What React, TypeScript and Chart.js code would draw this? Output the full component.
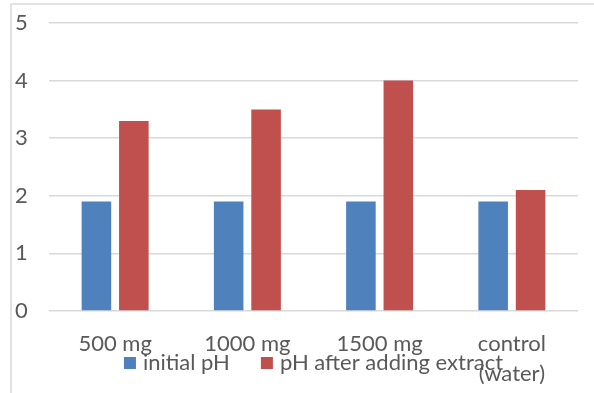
import React, { useEffect, useRef } from "react";
import { Chart, registerables } from "chart.js";

Chart.register(...registerables);

const categories: (string | string[])[] = ["500 mg", "1000 mg", "1500 mg", ["control", "(water)"]];
const seriesNames = ["initial pH", "pH after adding extract"];
const initialPH = [1.9, 1.9, 1.9, 1.9];
const afterPH = [3.3, 3.5, 4.0, 2.1];
const colors = ["#4f81bd", "#c0504d"];
const yMin = 0;
const yMax = 5;
const yStep = 1;

const FONT = "Lato";
const TEXT = "#595959";
const GRID = "#d9d9d9";

const frame = {
  id: "frame",
  beforeDraw(chart: any) {
    const ctx = chart.ctx;
    ctx.save();
    ctx.strokeStyle = GRID;
    ctx.lineWidth = 1.5;
    ctx.beginPath();
    ctx.moveTo(11, chart.height + 2);
    ctx.lineTo(11, 4);
    ctx.lineTo(chart.width + 2, 4);
    ctx.stroke();
    ctx.restore();
  },
};

const customLegend = {
  id: "customLegend",
  afterDraw(chart: any) {
    const ctx = chart.ctx;
    const area = chart.chartArea;
    ctx.save();
    ctx.font = `22px ${FONT}`;
    ctx.textBaseline = "middle";
    ctx.textAlign = "left";
    const box = 12;
    const gapBoxText = 7;
    const gapItems = 31;
    const items = chart.data.datasets.map((d: any) => ({
      label: d.label,
      color: d.backgroundColor,
      w: box + gapBoxText + ctx.measureText(d.label).width,
    }));
    const total = items.reduce((s: number, it: any) => s + it.w, 0) + gapItems * (items.length - 1);
    let x = (area.left + area.right) / 2 - total / 2;
    const yc = 363;
    items.forEach((it: any) => {
      ctx.fillStyle = it.color;
      ctx.fillRect(x, yc - box / 2, box, box);
      ctx.fillStyle = TEXT;
      ctx.fillText(it.label, x + box + gapBoxText, yc);
      x += it.w + gapItems;
    });
    ctx.restore();
  },
};

export default function App() {
  const ref = useRef<HTMLCanvasElement>(null);
  useEffect(() => {
    if (!ref.current) return;
    const chart = new Chart(ref.current, {
      type: "bar",
      data: {
        labels: categories,
        datasets: [
          { label: seriesNames[0], data: initialPH, backgroundColor: colors[0] },
          { label: seriesNames[1], data: afterPH, backgroundColor: colors[1] },
        ],
      },
      options: {
        responsive: false,
        animation: false,
        datasets: { bar: { categoryPercentage: 0.566, barPercentage: 0.79 } },
        layout: { padding: { left: 15, top: 23, right: 16, bottom: 0 } },
        plugins: { legend: { display: false }, tooltip: { enabled: false } },
        scales: {
          x: {
            grid: { display: false, drawTicks: false },
            border: { display: false },
            ticks: {
              font: { family: FONT, size: 22, lineHeight: 1.36 },
              color: TEXT,
              padding: 18,
              maxRotation: 0,
              autoSkip: false,
            },
            afterFit: (s: any) => {
              s.height = 82;
            },
          },
          y: {
            min: yMin,
            max: yMax,
            grid: { color: GRID, lineWidth: 1.5, drawTicks: false },
            border: { display: false },
            ticks: {
              stepSize: yStep,
              font: { family: FONT, size: 22 },
              color: TEXT,
              crossAlign: "far",
              padding: 0,
            },
            afterFit: (s: any) => {
              s.width = 34;
            },
          },
        },
      },
      plugins: [frame, customLegend],
    });
    return () => chart.destroy();
  }, []);
  return (
    <div style={{ position: "fixed", left: 0, top: 0, width: 594, height: 393, background: "#fff" }}>
      <canvas ref={ref} width={594} height={393} style={{ display: "block" }} />
    </div>
  );
}
